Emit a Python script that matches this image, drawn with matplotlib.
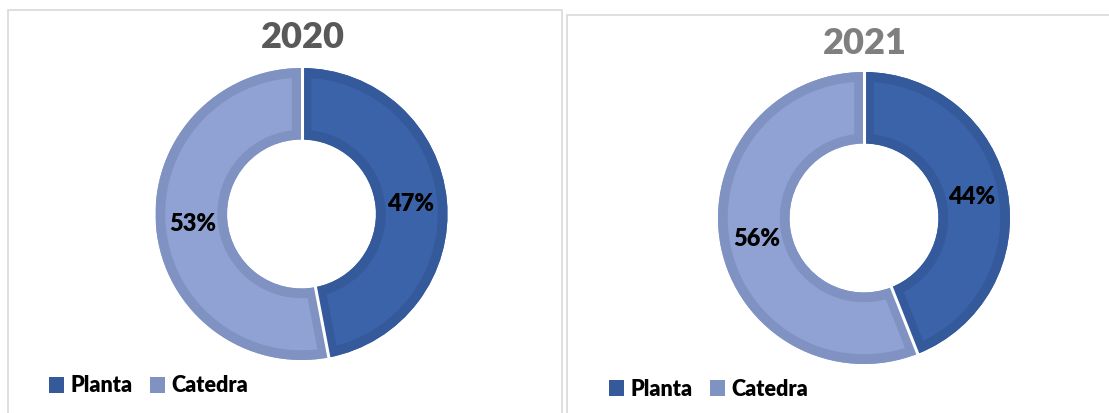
import numpy as np
import matplotlib.pyplot as plt
from matplotlib.patches import Patch, Rectangle, Wedge

# data
categories = ['Planta', 'Catedra']
years = ['2020', '2021']
vals_2020 = [47, 53]
vals_2021 = [44, 56]

fill_cols = ['#3B63AA', '#8FA2D3']
edge_cols = ['#345A9B', '#7F92C1']
title_cols = ['#595959', '#7F7F7F']

plt.rcParams['font.family'] = ['Lato', 'DejaVu Sans']

W, H = 1109, 413
fig = plt.figure(figsize=(W / 100, H / 100), dpi=100)

# panel frames (pixel coords from top-left)
fig.patches.append(Rectangle((8 / W, -0.01), (562 - 8) / W, (H - 10) / H + 0.01,
                             transform=fig.transFigure, fill=False,
                             edgecolor='#D9D9D9', lw=1.2, clip_on=False))
fig.patches.append(Rectangle((567 / W, -0.01), (W - 567 + 20) / W, (H - 15) / H + 0.01,
                             transform=fig.transFigure, fill=False,
                             edgecolor='#D9D9D9', lw=1.2, clip_on=False))

R = 146  # outer radius in px
centres = [(301.5, 214), (864, 218)]
title_pos = [(303, 38), (865, 43)]
legend_pos = [(49, 386), (609, 389)]

for i, vals in enumerate([vals_2020, vals_2021]):
    cx, cy = centres[i]
    ax = fig.add_axes([(cx - R) / W, (H - cy - R) / H, 2 * R / W, 2 * R / H])
    wedges, _, autotexts = ax.pie(vals, startangle=90, counterclock=False,
                                  colors=fill_cols, radius=1,
                                  wedgeprops=dict(width=0.49, linewidth=0),
                                  autopct='%1.0f%%', pctdistance=0.75,
                                  textprops=dict(fontsize=17, fontweight='heavy', color='black'))
    for t in autotexts:
        t.set_zorder(10)
    # inner border: a copy of each wedge, thick outline clipped to the wedge
    for w, ec in zip(wedges, edge_cols):
        b = Wedge(w.center, w.r, w.theta1, w.theta2, width=w.width,
                  facecolor='none', edgecolor=ec, lw=14, zorder=3)
        ax.add_patch(b)
        b.set_clip_path(w)
    # white gaps between the slices
    bounds = 90 - 360 * np.concatenate([[0], np.cumsum(vals)]) / sum(vals)
    for a in bounds[:-1]:
        t = np.deg2rad(a)
        ax.plot([0.5 * np.cos(t), 1.02 * np.cos(t)], [0.5 * np.sin(t), 1.02 * np.sin(t)],
                color='white', lw=2.2, solid_capstyle='butt', zorder=5)
    ax.set_xlim(-1, 1)
    ax.set_ylim(-1, 1)
    ax.set_aspect('equal')
    ax.axis('off')

    tx, ty = title_pos[i]
    fig.text(tx / W, 1 - ty / H, years[i], ha='center', va='center',
             fontsize=26, fontweight='heavy', color=title_cols[i])

    handles = [Patch(facecolor=c, edgecolor='none') for c in edge_cols]
    lx, ly = legend_pos[i]
    fig.legend(handles, categories, loc='center left',
               bbox_to_anchor=(lx / W, 1 - ly / H), ncol=2, frameon=False,
               handlelength=0.7, handleheight=0.7, handletextpad=0.3,
               columnspacing=0.8, borderpad=0, borderaxespad=0,
               prop=dict(size=15.5, weight='heavy'))

fig.savefig('out.png', dpi=100)
